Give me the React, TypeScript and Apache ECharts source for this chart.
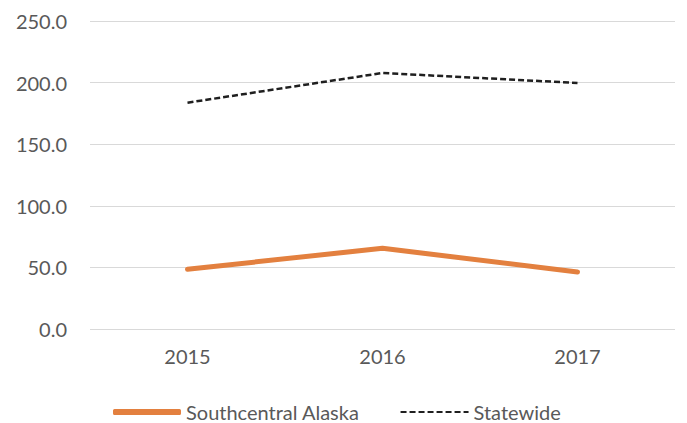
import React, { useEffect, useRef } from "react";
import * as echarts from "echarts";

const years = ["2015", "2016", "2017"];
const southcentral = [48.5, 65.5, 46.3];
const statewide = [183.7, 207.8, 199.7];
const yTicks = { min: 0, max: 250, interval: 50 };

export default function App() {
  const ref = useRef<HTMLDivElement>(null);
  useEffect(() => {
    const chart = echarts.init(ref.current!, null, { renderer: "svg" });
    const font = "Lato, 'Open Sans', sans-serif";
    chart.setOption({
      animation: false,
      textStyle: { fontFamily: font },
      grid: { left: 90, right: 12, top: 21, bottom: 94 },
      xAxis: {
        type: "category",
        data: years,
        boundaryGap: true,
        axisLine: { show: false },
        axisTick: { show: false },
        axisLabel: { color: "#595959", fontSize: 20, margin: 17, fontFamily: font },
      },
      yAxis: {
        type: "value",
        min: yTicks.min,
        max: yTicks.max,
        interval: yTicks.interval,
        axisLine: { show: false },
        axisTick: { show: false },
        axisLabel: {
          color: "#595959",
          fontSize: 20,
          margin: 23,
          fontFamily: font,
          formatter: (v: number) => v.toFixed(1),
        },
        splitLine: { lineStyle: { color: "#d9d9d9", width: 1 } },
      },
      legend: {
        top: 400,
        left: 113,
        padding: 0,
        itemWidth: 68,
        itemHeight: 6,
        itemGap: 40,
        textStyle: { color: "#595959", fontSize: 20, fontFamily: font, lineHeight: 24 },
        data: [
          { name: "Southcentral Alaska", icon: "roundRect" },
          { name: "Statewide", itemStyle: { opacity: 0 } },
        ],
      },
      series: [
        {
          name: "Southcentral Alaska",
          type: "line",
          data: southcentral,
          symbol: "none",
          lineStyle: { color: "#E3803F", width: 5, cap: "round" },
          itemStyle: { color: "#E3803F" },
        },
        {
          name: "Statewide",
          type: "line",
          data: statewide,
          symbol: "none",
          lineStyle: { color: "#1f1f1f", width: 2.5, type: [6, 3] },
          itemStyle: { color: "#1f1f1f" },
        },
      ],
    });
    return () => chart.dispose();
  }, []);
  return <div ref={ref} style={{ width: 687, height: 423, position: "absolute", left: 0, top: 0 }} />;
}
